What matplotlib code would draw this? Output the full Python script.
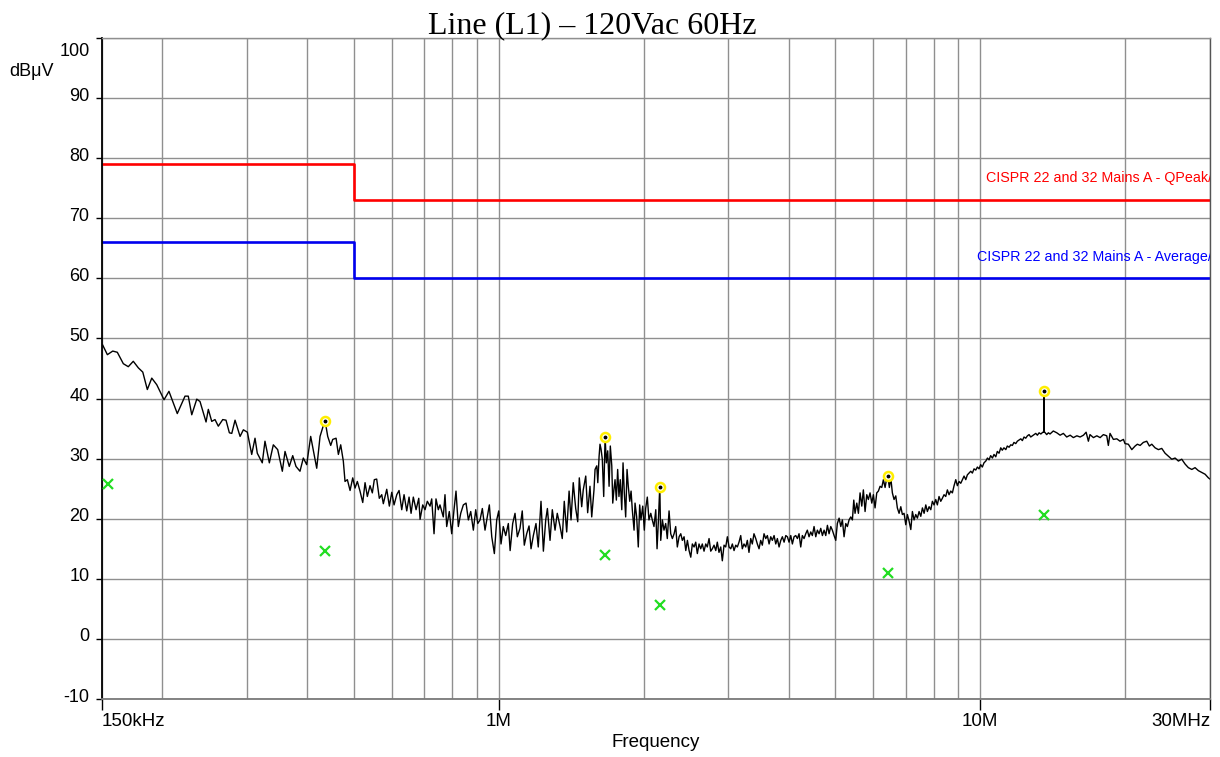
"""Conducted emissions scan, Line (L1) at 120Vac 60Hz, with CISPR 22/32 class A limits."""
import numpy as np
import matplotlib
matplotlib.use('Agg')
import matplotlib.pyplot as plt
import matplotlib.transforms as mtransforms

plt.rcParams['font.family'] = ['Liberation Sans', 'DejaVu Sans']
plt.rcParams['axes.unicode_minus'] = False

f_low = [0.1505, 0.1539, 0.1579, 0.1614, 0.1661, 0.1701, 0.1742, 0.1785, 0.1823, 0.1863,
         0.1903, 0.1949, 0.2018, 0.2066, 0.2150, 0.2231, 0.2266, 0.2304, 0.2360, 0.2397,
         0.2467, 0.2494, 0.2535, 0.2575, 0.2616, 0.2672, 0.2714, 0.2758, 0.2790, 0.2834,
         0.2903, 0.2949, 0.3006, 0.3069, 0.3118, 0.3152, 0.3228, 0.3270, 0.3339, 0.3403,
         0.3475, 0.3553, 0.3599, 0.3673, 0.3734, 0.3793, 0.3866, 0.3928, 0.3992, 0.4069,
         0.4188, 0.4255, 0.4357, 0.4414, 0.4478, 0.4521, 0.4594, 0.4645, 0.4697, 0.4756]
db_low = [48.9, 47.3, 47.9, 47.7, 45.8, 45.3, 46.2, 45.1, 44.4, 41.5,
          43.4, 42.3, 39.8, 41.2, 37.5, 40.4, 40.4, 37.3, 39.9, 39.5,
          36.1, 38.2, 36.2, 36.5, 35.4, 36.5, 36.4, 34.3, 34.2, 36.4,
          33.7, 34.8, 34.4, 30.7, 33.4, 30.9, 29.3, 32.9, 29.3, 32.3,
          31.5, 27.9, 31.2, 28.7, 30.5, 28.7, 27.9, 30.1, 29.0, 33.7,
          28.4, 33.7, 36.4, 33.7, 32.2, 33.2, 33.4, 30.7, 32.3, 29.6]

f_mid1 = [0.4795, 0.4849, 0.4912, 0.4975, 0.5030, 0.5086, 0.5151, 0.5219, 0.5277, 0.5335,
          0.5404, 0.5464, 0.5516, 0.5579, 0.5649, 0.5715, 0.5759, 0.5854, 0.5927, 0.5996,
          0.6062, 0.6141, 0.6209, 0.6289, 0.6359, 0.6441, 0.6513, 0.6576, 0.6647, 0.6735,
          0.6822, 0.6865, 0.6953, 0.7030, 0.7107, 0.7200, 0.7258, 0.7339, 0.7408, 0.7491,
          0.7551, 0.7671, 0.7734, 0.7797, 0.7895, 0.7986, 0.8075, 0.8152, 0.8243, 0.8338,
          0.8443, 0.8553, 0.8648, 0.8747, 0.8857, 0.8958, 0.9045, 0.9145, 0.9246, 0.9365,
          0.9443, 0.9561, 0.9672, 0.9793, 0.9904, 1.000, 1.011, 1.022, 1.034, 1.047,
          1.056, 1.069, 1.081, 1.093, 1.107, 1.119, 1.130, 1.143, 1.156, 1.167,
          1.180, 1.195, 1.208, 1.224, 1.238, 1.252, 1.262, 1.278, 1.292, 1.309,
          1.323, 1.341, 1.355, 1.368, 1.384, 1.400, 1.413, 1.428, 1.445, 1.459,
          1.470, 1.487, 1.498, 1.516, 1.530, 1.547, 1.560, 1.577]
db_mid1 = [26.2, 26.5, 24.7, 26.8, 25.1, 26.2, 24.6, 22.7, 26.0, 23.7,
           25.5, 24.3, 26.5, 26.6, 23.4, 24.0, 22.5, 24.9, 22.1, 24.4,
           22.3, 24.0, 24.7, 21.5, 24.0, 21.3, 23.6, 20.9, 23.6, 21.5,
           23.4, 19.9, 22.3, 21.5, 22.9, 22.1, 23.3, 17.5, 23.3, 21.5,
           22.3, 20.3, 24.0, 18.7, 21.2, 17.5, 21.5, 24.6, 18.7, 20.9,
           22.3, 22.6, 19.8, 21.2, 18.1, 21.5, 19.2, 19.8, 21.7, 18.1,
           19.8, 22.3, 17.0, 14.2, 19.8, 21.3, 15.8, 18.7, 17.2, 19.2,
           14.7, 19.2, 20.9, 17.0, 18.4, 21.3, 15.6, 17.5, 18.8, 15.0,
           17.2, 19.2, 15.3, 22.9, 14.6, 19.8, 21.7, 16.4, 21.5, 18.1,
           20.9, 18.7, 16.7, 22.9, 17.8, 24.6, 19.8, 26.0, 21.7, 19.5,
           26.8, 22.0, 24.8, 27.1, 21.0, 25.4, 20.3, 24.8]

f_mid2 = [1.585, 1.598, 1.606, 1.616, 1.623, 1.631, 1.641, 1.652, 1.663, 1.673,
          1.684, 1.695, 1.705, 1.717, 1.725, 1.736, 1.744, 1.755, 1.766, 1.777,
          1.788, 1.801, 1.812, 1.823, 1.835, 1.847, 1.858, 1.871, 1.883, 1.894,
          1.910, 1.919, 1.934, 1.949, 1.962, 1.974, 1.991, 2.006, 2.019, 2.035,
          2.051, 2.069, 2.084, 2.101, 2.119, 2.132, 2.146, 2.160, 2.170, 2.187,
          2.204, 2.222, 2.239, 2.258, 2.276, 2.294, 2.313, 2.331, 2.349, 2.369,
          2.388, 2.406, 2.426, 2.446, 2.465, 2.485, 2.505, 2.524, 2.545, 2.565,
          2.585, 2.606, 2.627, 2.647, 2.669, 2.691, 2.711, 2.734, 2.756, 2.777,
          2.800, 2.823, 2.844, 2.867, 2.891, 2.913, 2.937, 2.961, 2.984, 3.008,
          3.033, 3.056, 3.081, 3.106, 3.130, 3.155, 3.181, 3.205, 3.231, 3.258,
          3.283, 3.309, 3.337, 3.362, 3.389, 3.418, 3.444, 3.472, 3.500, 3.527,
          3.556, 3.585, 3.613, 3.643, 3.672, 3.700, 3.731, 3.761, 3.790, 3.821,
          3.853, 3.882, 3.914, 3.946, 3.976, 4.008, 4.041, 4.072, 4.105, 4.138,
          4.171, 4.204, 4.238, 4.271, 4.306, 4.341, 4.374, 4.410, 4.446, 4.480,
          4.517, 4.554, 4.589, 4.627, 4.664, 4.701, 4.739, 4.777, 4.815, 4.853,
          4.893, 4.930, 4.971, 5.011, 5.049, 5.092, 5.133, 5.172, 5.214, 5.257,
          5.297, 5.340, 5.384, 5.426, 5.462, 5.495]
db_mid2 = [28.2, 28.8, 26.0, 30.4, 32.4, 31.6, 29.9, 23.7, 33.6, 29.3,
           31.3, 25.4, 32.1, 28.8, 22.6, 25.1, 26.5, 23.1, 28.2, 23.7,
           26.5, 21.5, 29.3, 24.3, 20.3, 28.2, 25.4, 22.9, 24.6, 21.5,
           18.1, 22.6, 20.3, 15.3, 22.3, 19.8, 22.1, 18.1, 21.7, 23.6,
           19.8, 20.9, 19.8, 18.7, 21.5, 15.0, 19.8, 25.4, 16.4, 19.8,
           18.1, 19.2, 16.7, 21.3, 17.5, 16.7, 17.5, 18.7, 15.3, 17.0,
           17.5, 16.4, 17.0, 14.7, 16.4, 14.7, 13.6, 15.8, 15.3, 16.1,
           14.2, 15.8, 15.0, 15.8, 14.6, 15.8, 15.3, 16.7, 14.6, 15.0,
           15.6, 14.7, 16.1, 14.4, 15.3, 13.0, 15.6, 15.3, 17.0, 15.3,
           15.0, 15.8, 14.7, 15.6, 15.3, 16.1, 17.2, 15.0, 15.8, 15.3,
           16.4, 14.4, 16.7, 15.8, 17.5, 16.7, 15.8, 15.0, 16.4, 15.6,
           17.5, 16.7, 17.2, 15.8, 17.0, 16.4, 17.2, 15.8, 16.7, 15.3,
           16.4, 17.0, 16.1, 17.2, 17.0, 16.1, 17.2, 15.8, 17.0, 17.2,
           16.7, 17.5, 15.3, 17.2, 16.7, 17.5, 18.1, 17.0, 17.8, 17.2,
           18.7, 17.0, 18.1, 17.5, 18.4, 17.2, 18.1, 17.2, 18.9, 17.5,
           18.7, 18.1, 17.2, 16.4, 19.2, 20.1, 18.7, 19.8, 17.0, 19.2,
           18.7, 19.8, 20.3, 19.8, 23.1, 20.9]

f_high1 = [5.541, 5.584, 5.629, 5.675, 5.718, 5.765, 5.812, 5.856, 5.904, 5.953,
           5.998, 6.047, 6.096, 6.144, 6.194, 6.244, 6.293, 6.344, 6.395, 6.426,
           6.475, 6.519, 6.569, 6.622, 6.676, 6.727, 6.783, 6.839, 6.891, 6.947,
           7.004, 7.058, 7.115, 7.174, 7.229, 7.287, 7.346, 7.404, 7.464, 7.525,
           7.584, 7.645, 7.707, 7.766, 7.830, 7.894, 7.954, 8.017, 8.083, 8.145,
           8.211, 8.279, 8.342, 8.410, 8.478, 8.545, 8.614, 8.684, 8.752, 8.823,
           8.895, 8.963, 9.036, 9.110, 9.180, 9.255, 9.331, 9.402, 9.478, 9.556,
           9.630, 9.707, 9.788, 9.863, 9.943, 10.02, 10.10, 10.18, 10.27, 10.35,
           10.43, 10.51, 10.60, 10.68, 10.77, 10.85, 10.94, 11.03, 11.11, 11.20,
           11.30, 11.38, 11.48, 11.57, 11.66, 11.75, 11.85, 11.94, 12.04, 12.14,
           12.23, 12.33, 12.43, 12.53, 12.63, 12.73, 12.83, 12.93, 13.04, 13.14,
           13.25, 13.36, 13.49, 13.55, 13.56, 13.57, 13.61, 13.74, 13.85, 13.96]
db_high1 = [22.6, 20.9, 24.3, 22.1, 24.8, 21.2, 24.0, 23.2, 24.3, 22.6,
            24.0, 21.8, 24.3, 24.6, 25.4, 25.2, 26.5, 25.2, 26.8, 27.1,
            25.2, 26.8, 24.3, 23.2, 23.8, 21.8, 20.9, 22.0, 20.7, 20.9,
            19.0, 20.7, 19.6, 18.2, 21.2, 19.8, 20.7, 20.1, 21.2, 20.4,
            21.8, 20.9, 22.3, 21.2, 22.0, 21.5, 22.9, 22.3, 23.2, 22.3,
            23.7, 22.9, 23.4, 24.0, 23.7, 24.8, 24.0, 24.6, 24.3, 25.5,
            26.5, 25.5, 26.2, 25.9, 26.5, 27.1, 26.5, 27.3, 27.6, 27.9,
            27.6, 28.3, 28.1, 28.6, 28.3, 29.0, 28.6, 29.3, 29.6, 30.1,
            29.8, 30.5, 30.1, 30.7, 30.3, 31.2, 30.9, 31.8, 31.4, 31.8,
            31.5, 32.1, 31.9, 32.3, 32.2, 32.7, 32.5, 32.9, 33.1, 33.3,
            33.0, 33.6, 33.4, 33.8, 34.0, 33.6, 33.8, 34.0, 34.2, 33.9,
            34.3, 34.1, 34.4, 34.4, 41.2, 34.5, 34.4, 34.0, 34.3, 34.1]

f_high2 = [14.18, 14.42, 14.65, 14.88, 15.12, 15.37, 15.61, 15.87, 16.12, 16.38,
           16.59, 16.77, 16.90, 17.18, 17.46, 17.74, 18.02, 18.31, 18.45, 18.60,
           18.90, 19.21, 19.51, 19.83, 19.98, 20.30, 20.64, 20.97, 21.20, 21.48,
           21.81, 22.17, 22.45, 22.71, 23.07, 23.44, 23.82, 24.20, 24.59, 24.99,
           25.39, 25.79, 26.21, 26.63, 27.05, 27.50, 27.93, 28.38, 28.84, 29.31,
           29.77, 30.0]
db_high2 = [34.6, 34.3, 33.9, 34.2, 33.6, 33.9, 33.5, 33.8, 33.6, 33.9,
            34.4, 32.9, 34.0, 33.5, 33.8, 33.5, 34.0, 33.8, 32.2, 34.2,
            33.2, 33.3, 32.9, 33.2, 32.5, 32.4, 31.5, 32.1, 32.4, 32.2,
            32.7, 32.9, 32.1, 32.4, 31.8, 31.5, 31.7, 30.9, 30.4, 29.9,
            30.1, 29.6, 29.9, 29.1, 28.5, 28.2, 28.5, 28.0, 27.7, 27.4,
            26.8, 26.6]

# --- final peak / average readings ---
peak_f = [0.436, 1.665, 2.163, 6.43, 13.56]
peak_db = [36.3, 33.6, 25.3, 27.1, 41.2]
avg_f = [0.154, 0.435, 1.665, 2.16, 6.43, 13.56]
avg_db = [25.7, 14.6, 14.0, 5.7, 11.0, 20.7]

# --- CISPR 22/32 class A mains limits ---
limit_f = [0.15, 0.5, 30.0]
qp_limit = [79, 73, 73]
avg_limit = [66, 60, 60]

grid_f = [0.2, 0.3, 0.4, 0.5, 0.6, 0.7, 0.8, 0.9, 2, 3, 4, 5, 6, 7, 8, 9, 20]
xtick_f = [0.15, 1, 10, 30]
xtick_labels = ['150kHz', '1M', '10M', '30MHz']
ytick_vals = list(range(-10, 101, 10))

freq = np.concatenate([f_low, f_mid1, f_mid2, f_high1, f_high2])
level = np.concatenate([db_low, db_mid1, db_mid2, db_high1, db_high2])

W, H = 1220, 757
fig = plt.figure(figsize=(W / 100, H / 100), dpi=100)
ax = fig.add_axes([102 / W, 1 - 699 / H, (1210 - 102) / W, (699 - 38) / H])
ax.set_xscale('log')
ax.set_xlim(0.15, 30)
ax.set_ylim(-10, 100)

ax.set_xticks(xtick_f)
ax.set_xticklabels(xtick_labels)
ax.set_xticks(grid_f, minor=True)
ax.set_xticklabels([], minor=True)
ax.set_yticks(ytick_vals)
ax.grid(True, which='both', color='#8f8f8f', linewidth=1.0)
ax.set_axisbelow(True)
ax.tick_params(axis='x', which='major', length=8, width=1, direction='out', pad=2, labelsize=13.5)
ax.tick_params(axis='x', which='minor', length=0)
ax.tick_params(axis='y', length=4, width=1, direction='out', pad=5, labelsize=13)

for side, col in [('left', 'black'), ('right', '#555555'), ('top', '#8f8f8f'), ('bottom', '#7a7a7a')]:
    ax.spines[side].set_color(col)
    ax.spines[side].set_linewidth(1.3 if side in ('left', 'bottom') else 1.0)

xl = ax.get_xticklabels()
xl[0].set_ha('left')
xl[-1].set_ha('right')
for lab in ax.get_yticklabels():
    dy = -11 if lab.get_text() == '100' else 4
    lab.set_transform(lab.get_transform() + mtransforms.ScaledTranslation(0, dy / 100, fig.dpi_scale_trans))

# limit lines
ax.plot(limit_f, qp_limit, drawstyle='steps-post', color='#ff0000', linewidth=1.9)
ax.plot(limit_f, avg_limit, drawstyle='steps-post', color='#0000ee', linewidth=1.9)
trans = mtransforms.blended_transform_factory(ax.transAxes, ax.transData)
ax.text(1.0018, 76.0, 'CISPR 22 and 32 Mains A - QPeak/', transform=trans, ha='right',
        va='baseline', color='#ff0000', fontsize=10.3, clip_on=True)
ax.text(1.0018, 62.9, 'CISPR 22 and 32 Mains A - Average/', transform=trans, ha='right',
        va='baseline', color='#0000ff', fontsize=10.3, clip_on=True)

# measured trace
ax.plot(freq, level, color='black', linewidth=1.0)
ax.plot(peak_f, peak_db, linestyle='none', marker='o', markersize=6.5, markerfacecolor='white',
        markeredgecolor='#ffee00', markeredgewidth=1.8, zorder=5)
ax.plot(peak_f, peak_db, linestyle='none', marker='o', markersize=1.8, color='black', zorder=6)
ax.plot(avg_f, avg_db, linestyle='none', marker='x', markersize=7, markeredgewidth=1.6,
        color='#22dd22', zorder=5)

ax.set_xlabel('Frequency', fontsize=13.5, labelpad=3)
fig.text(9 / W, 1 - 71 / H, 'dBμV', ha='left', va='center', fontsize=13)
fig.text(592 / W, 1 - 33 / H, 'Line (L1) – 120Vac 60Hz', ha='center', va='baseline',
         fontsize=23, family=['Liberation Serif', 'DejaVu Serif'])

fig.savefig('out.png', dpi=100)
